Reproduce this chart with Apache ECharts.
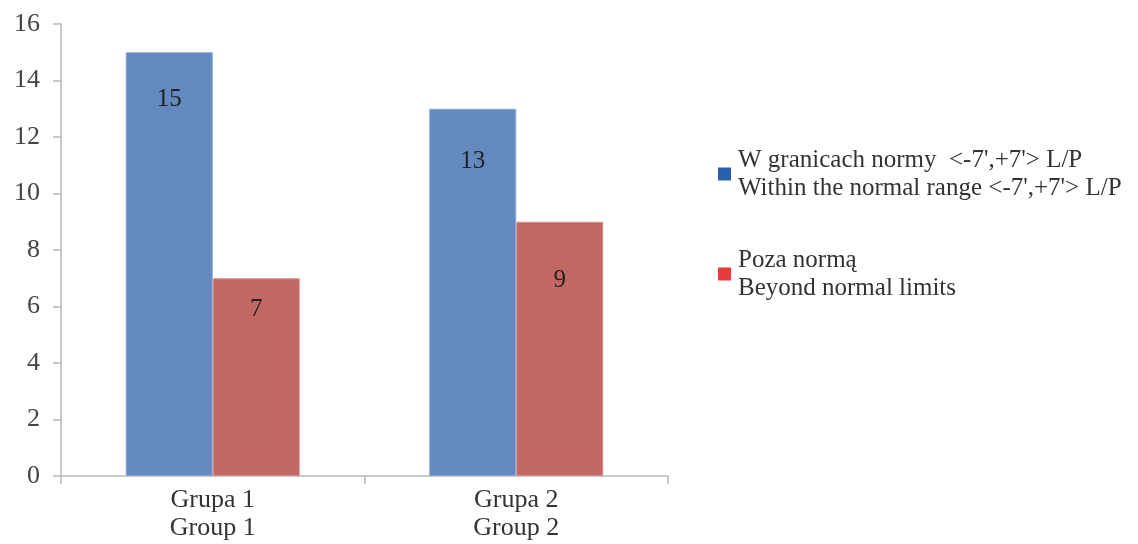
<!DOCTYPE html>
<html>
<head>
<meta charset="utf-8">
<script src="https://cdn.jsdelivr.net/npm/echarts@6/dist/echarts.min.js"></script>
<style>
  html, body { margin: 0; padding: 0; background: #fff; }
  #chart { width: 1138px; height: 544px; }
</style>
</head>
<body>
<div id="chart"></div>
<script>
// Categories (two-line labels: Polish / English)
const categories = ['Grupa 1\nGroup 1', 'Grupa 2\nGroup 2'];

// Series names (two-line: Polish / English)
const seriesNames = [
  "W granicach normy  <-7',+7'> L/P\nWithin the normal range <-7',+7'> L/P",
  'Poza normą\nBeyond normal limits'
];

// Values per series
const withinRange = [15, 13];
const beyondRange = [7, 9];

// Y axis ticks
const yMin = 0, yMax = 16, yStep = 2;

// Label distance from bar top for each value
const labelDistWithin = [35, 40];
const labelDistBeyond = [19, 46];

const barColors = ['#6389c0', '#c26764'];
const legendColors = ['#2b5fae', '#e83b3b'];
const serif = '"Liberation Serif", "DejaVu Serif", serif';
const textColor = '#333';

function items(values, dists) {
  return values.map((v, i) => ({
    value: v,
    label: { distance: dists[i] }
  }));
}

const chart = echarts.init(document.getElementById('chart'));
chart.setOption({
  animation: false,
  backgroundColor: '#fff',
  grid: { left: 61, right: 470, top: 24, bottom: 68 },
  legend: {
    orient: 'vertical',
    left: 713,
    top: 141,
    itemWidth: 13,
    itemHeight: 13,
    itemGap: 44,
    icon: 'rect',
    selectedMode: false,
    textStyle: { fontFamily: serif, fontSize: 25, color: textColor, lineHeight: 28, padding: [0, 0, 0, 2] },
    data: [
      { name: seriesNames[0], itemStyle: { color: legendColors[0], borderWidth: 0 } },
      { name: seriesNames[1], itemStyle: { color: legendColors[1], borderWidth: 0 } }
    ]
  },
  xAxis: {
    type: 'category',
    data: categories,
    axisLine: { lineStyle: { color: '#b8b8b8', width: 1.5 } },
    axisTick: { show: true, length: 8, lineStyle: { color: '#b8b8b8', width: 1.5 } },
    axisLabel: { fontFamily: serif, fontSize: 26, color: textColor, lineHeight: 28, margin: 10 }
  },
  yAxis: {
    type: 'value',
    min: yMin,
    max: yMax,
    interval: yStep,
    splitLine: { show: false },
    axisLine: { show: true, lineStyle: { color: '#b8b8b8', width: 1.5 } },
    axisTick: { show: true, length: 8, lineStyle: { color: '#b8b8b8', width: 1.5 } },
    axisLabel: { fontFamily: serif, fontSize: 26, color: '#444', margin: 21 }
  },
  series: [
    {
      name: seriesNames[0],
      type: 'bar',
      barWidth: 87,
      barGap: '0%',
      data: items(withinRange, labelDistWithin),
      itemStyle: { color: barColors[0], borderColor: '#8aa8d4', borderWidth: 1 },
      label: { show: true, position: 'insideTop', fontFamily: serif, fontSize: 25, color: '#222' }
    },
    {
      name: seriesNames[1],
      type: 'bar',
      barWidth: 87,
      barGap: '0%',
      data: items(beyondRange, labelDistBeyond),
      itemStyle: { color: barColors[1], borderColor: '#d68e8b', borderWidth: 1 },
      label: { show: true, position: 'insideTop', fontFamily: serif, fontSize: 25, color: '#222' }
    }
  ]
});
</script>
</body>
</html>
